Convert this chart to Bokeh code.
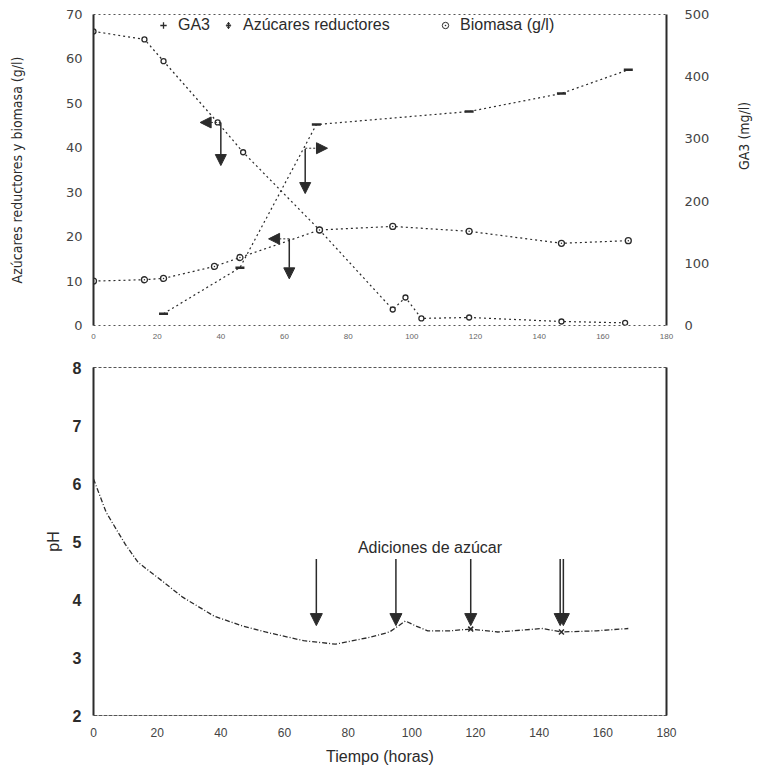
import math
from bokeh.plotting import figure
from bokeh.models import (Range1d, LinearAxis, Legend, LegendItem, Arrow, NormalHead,
                          Label, ColumnDataSource, FixedTicker)
from bokeh.layouts import column
from bokeh.embed import file_html
from bokeh.resources import INLINE

# ---------------- data ----------------
# top panel
ga3_t = [22, 46, 70, 118, 147, 168]
ga3_v = [19, 93, 323, 344, 373, 411]            # mg/l (right axis)

sugar_t = [0, 16, 22, 39, 47, 71, 94, 98, 103, 118, 147, 167]
sugar_v = [66.2, 64.4, 59.5, 45.7, 39.0, 21.5, 3.6, 6.3, 1.6, 1.8, 0.9, 0.6]   # g/l

bio_t = [0, 16, 22, 38, 46, 71, 94, 118, 147, 168]
bio_v = [10.0, 10.3, 10.6, 13.3, 15.3, 21.5, 22.3, 21.2, 18.5, 19.1]         # g/l

# axis-pointer arrows in top panel (curve point, arrow tip)
ptr_left_t = [40, 61.5]
ptr_left_v = [45.7, 19.5]
ptr_left_tip_t = [33.5, 55.0]
ptr_down_t = [40, 61.5, 66.5]
ptr_down_v = [45.7, 19.5, 39.7]
ptr_down_tip_v = [36.0, 10.5, 29.7]
ptr_right_t = [66.5]
ptr_right_ga3 = [285]
ptr_right_tip_t = [73.5]

# bottom panel: pH
ph_t = [0, 4, 10, 14, 22, 28, 38, 47, 54, 66, 76, 87, 93, 98, 101, 105, 112,
        118.5, 127, 141, 147, 158, 168]
ph_v = [6.08, 5.5, 4.95, 4.64, 4.3, 4.04, 3.71, 3.54, 3.44, 3.29, 3.23, 3.35,
        3.44, 3.63, 3.55, 3.46, 3.46, 3.49, 3.44, 3.5, 3.44, 3.46, 3.5]
ph_mark_t = [118.5, 147]
ph_mark_v = [3.49, 3.44]

add_t = [70, 95, 118.5, 146.6, 147.6]      # sugar additions (arrows)
add_from = 4.7
add_to = 3.55

x_ticks = [0, 20, 40, 60, 80, 100, 120, 140, 160, 180]
left_ticks = [0, 10, 20, 30, 40, 50, 60, 70]
right_ticks = [0, 100, 200, 300, 400, 500]
ph_ticks = [2, 3, 4, 5, 6, 7, 8]

series_names = ["GA3", "Azúcares reductores", "Biomasa (g/l)"]

INK = "#2b2b2b"
FONT = "Liberation Sans"
NARROW = "DejaVu Sans Condensed"

# ---------------- top panel ----------------
top = figure(width=776, height=345, x_range=Range1d(0, 180), y_range=Range1d(0, 70),
             output_backend="svg", toolbar_location=None,
             min_border_left=93, min_border_right=109, min_border_top=14, min_border_bottom=20)
top.extra_y_ranges = {"ga3": Range1d(0, 500)}
top.grid.visible = False
top.outline_line_color = "#555555"
top.outline_line_dash = "2 3"

top.xaxis.ticker = FixedTicker(ticks=x_ticks)
top.xaxis.axis_line_color = None
top.xaxis.major_tick_line_color = None
top.xaxis.minor_tick_line_color = None
top.xaxis.major_label_text_font_size = "8px"
top.xaxis.major_label_text_color = "#666666"
top.xaxis.major_label_standoff = 2

top.yaxis.ticker = FixedTicker(ticks=left_ticks)
top.yaxis.axis_line_color = INK
top.yaxis.axis_line_width = 2
top.yaxis.major_tick_line_color = None
top.yaxis.minor_tick_line_color = None
top.yaxis.major_label_text_font = "DejaVu Sans"
top.yaxis.major_label_text_font_size = "13px"
top.yaxis.major_label_text_color = "#444444"
top.yaxis.axis_label = "Azúcares reductores y biomasa (g/l)"
top.yaxis.axis_label_text_font = NARROW
top.yaxis.axis_label_text_font_size = "14px"
top.yaxis.axis_label_text_font_style = "normal"
top.yaxis.axis_label_text_color = INK
top.yaxis.axis_label_standoff = 38

raxis = LinearAxis(y_range_name="ga3", ticker=FixedTicker(ticks=right_ticks))
raxis.axis_line_color = INK
raxis.axis_line_width = 2
raxis.major_tick_line_color = None
raxis.minor_tick_line_color = None
raxis.major_label_text_font = "DejaVu Sans"
raxis.major_label_text_font_size = "13px"
raxis.major_label_text_color = "#444444"
raxis.major_label_standoff = 12
raxis.axis_label = "GA3 (mg/l)"
raxis.axis_label_text_font = NARROW
raxis.axis_label_text_font_size = "14px"
raxis.axis_label_text_font_style = "normal"
raxis.axis_label_text_color = INK
raxis.axis_label_standoff = 32
try:
    raxis.axis_label_orientation = math.pi / 2
except AttributeError:
    pass
top.add_layout(raxis, "right")

dash = "2 3"
top.line(ga3_t, ga3_v, y_range_name="ga3", line_color=INK, line_width=1.2, line_dash=dash)
top.scatter(ga3_t, ga3_v, y_range_name="ga3", marker="dash", size=9, line_width=2.5,
            line_color=INK)
top.line(sugar_t, sugar_v, line_color=INK, line_width=1.2, line_dash=dash)
top.scatter(sugar_t, sugar_v, marker="circle", size=5, line_color=INK,
            fill_color="white", line_width=1.3)
top.line(bio_t, bio_v, line_color=INK, line_width=1.2, line_dash=dash)
top.scatter(bio_t, bio_v, marker="circle_dot", size=6, line_color=INK,
            fill_color="white", line_width=1.3)

# legend key glyphs (kept outside the visible range, shown only in the key)
lg_ga3 = top.scatter([-100], [-100], marker="cross", size=9, line_color=INK, line_width=1.3)
lg_sug = top.scatter([-100], [-100], marker="diamond_cross", size=11, line_color=INK,
                     fill_color="white", line_width=1)
lg_bio = top.scatter([-100], [-100], marker="circle_dot", size=9, line_color=INK,
                     fill_color="white", line_width=1)

for rend, name, loc in zip([lg_ga3, lg_sug, lg_bio], series_names,
                           [(61, 291), (126, 291), (343, 291)]):
    top.add_layout(Legend(items=[LegendItem(label=name, renderers=[rend])],
                          location=loc, background_fill_alpha=0, border_line_alpha=0,
                          label_text_font=FONT, label_text_font_size="16px",
                          label_text_color=INK, glyph_width=18, glyph_height=16,
                          label_standoff=6, padding=0, margin=0))

head = dict(size=11, fill_color=INK, line_color=INK)
left_src = ColumnDataSource(dict(x0=ptr_left_t, y0=ptr_left_v, x1=ptr_left_tip_t, y1=ptr_left_v))
top.add_layout(Arrow(source=left_src, x_start="x0", y_start="y0", x_end="x1", y_end="y1",
                     line_color=INK, line_width=1, line_dash="2 2", end=NormalHead(**head)))
down_src = ColumnDataSource(dict(x0=ptr_down_t, y0=ptr_down_v, x1=ptr_down_t, y1=ptr_down_tip_v))
top.add_layout(Arrow(source=down_src, x_start="x0", y_start="y0", x_end="x1", y_end="y1",
                     line_color=INK, line_width=1.5, end=NormalHead(**head)))
right_src = ColumnDataSource(dict(x0=ptr_right_t, y0=ptr_right_ga3, x1=ptr_right_tip_t,
                                  y1=ptr_right_ga3))
top.add_layout(Arrow(source=right_src, x_start="x0", y_start="y0", x_end="x1", y_end="y1",
                     y_range_name="ga3", line_color=INK, line_width=1, line_dash="2 2",
                     end=NormalHead(**head)))

# ---------------- bottom panel ----------------
bot = figure(width=776, height=422, x_range=Range1d(0, 180), y_range=Range1d(2, 8),
             output_backend="svg", toolbar_location=None,
             min_border_left=87, min_border_right=110, min_border_top=22, min_border_bottom=50)
bot.grid.visible = False
bot.outline_line_color = "#555555"
bot.outline_line_dash = "3 2"

bot.xaxis.ticker = FixedTicker(ticks=x_ticks)
bot.xaxis.axis_line_color = "#555555"
bot.xaxis.axis_line_dash = "3 2"
bot.xaxis.major_tick_line_color = None
bot.xaxis.minor_tick_line_color = None
bot.xaxis.major_label_text_font = FONT
bot.xaxis.major_label_text_font_size = "12px"
bot.xaxis.major_label_text_color = "#444444"
bot.xaxis.major_label_standoff = 6
bot.xaxis.axis_label = "Tiempo (horas)"
bot.xaxis.axis_label_text_font = FONT
bot.xaxis.axis_label_text_font_size = "16px"
bot.xaxis.axis_label_text_font_style = "normal"
bot.xaxis.axis_label_text_color = INK
bot.xaxis.axis_label_standoff = 8

bot.yaxis.ticker = FixedTicker(ticks=ph_ticks)
bot.yaxis.axis_line_color = INK
bot.yaxis.axis_line_width = 2
bot.yaxis.major_tick_line_color = None
bot.yaxis.minor_tick_line_color = None
bot.yaxis.major_label_text_font = FONT
bot.yaxis.major_label_text_font_size = "16px"
bot.yaxis.major_label_text_font_style = "bold"
bot.yaxis.major_label_text_color = INK
bot.yaxis.major_label_standoff = 6
bot.yaxis.axis_label = "pH"
bot.yaxis.axis_label_text_font = FONT
bot.yaxis.axis_label_text_font_size = "16px"
bot.yaxis.axis_label_text_font_style = "normal"
bot.yaxis.axis_label_text_color = INK
bot.yaxis.axis_label_standoff = 8

raxis2 = LinearAxis(ticker=FixedTicker(ticks=[]))
raxis2.axis_line_color = INK
raxis2.axis_line_width = 2
raxis2.major_tick_line_color = None
raxis2.minor_tick_line_color = None
raxis2.major_label_text_font_size = "0px"
bot.add_layout(raxis2, "right")

bot.line(ph_t, ph_v, line_color=INK, line_width=1.3, line_dash="5 2 1 2")
bot.scatter(ph_mark_t, ph_mark_v, marker="x", size=7, line_color=INK, line_width=1.5)

add_src = ColumnDataSource(dict(x0=add_t, y0=[add_from] * len(add_t), x1=add_t,
                                y1=[add_to] * len(add_t)))
bot.add_layout(Arrow(source=add_src, x_start="x0", y_start="y0", x_end="x1", y_end="y1",
                     line_color=INK, line_width=1.5,
                     end=NormalHead(size=12, fill_color=INK, line_color=INK)))
bot.add_layout(Label(x=105.7, y=4.9, text="Adiciones de azúcar", text_align="center",
                     text_baseline="middle", text_font=FONT, text_font_size="16px",
                     text_color=INK))

p = column(top, bot, spacing=0)
open("out.html", "w").write(file_html(p, INLINE))
